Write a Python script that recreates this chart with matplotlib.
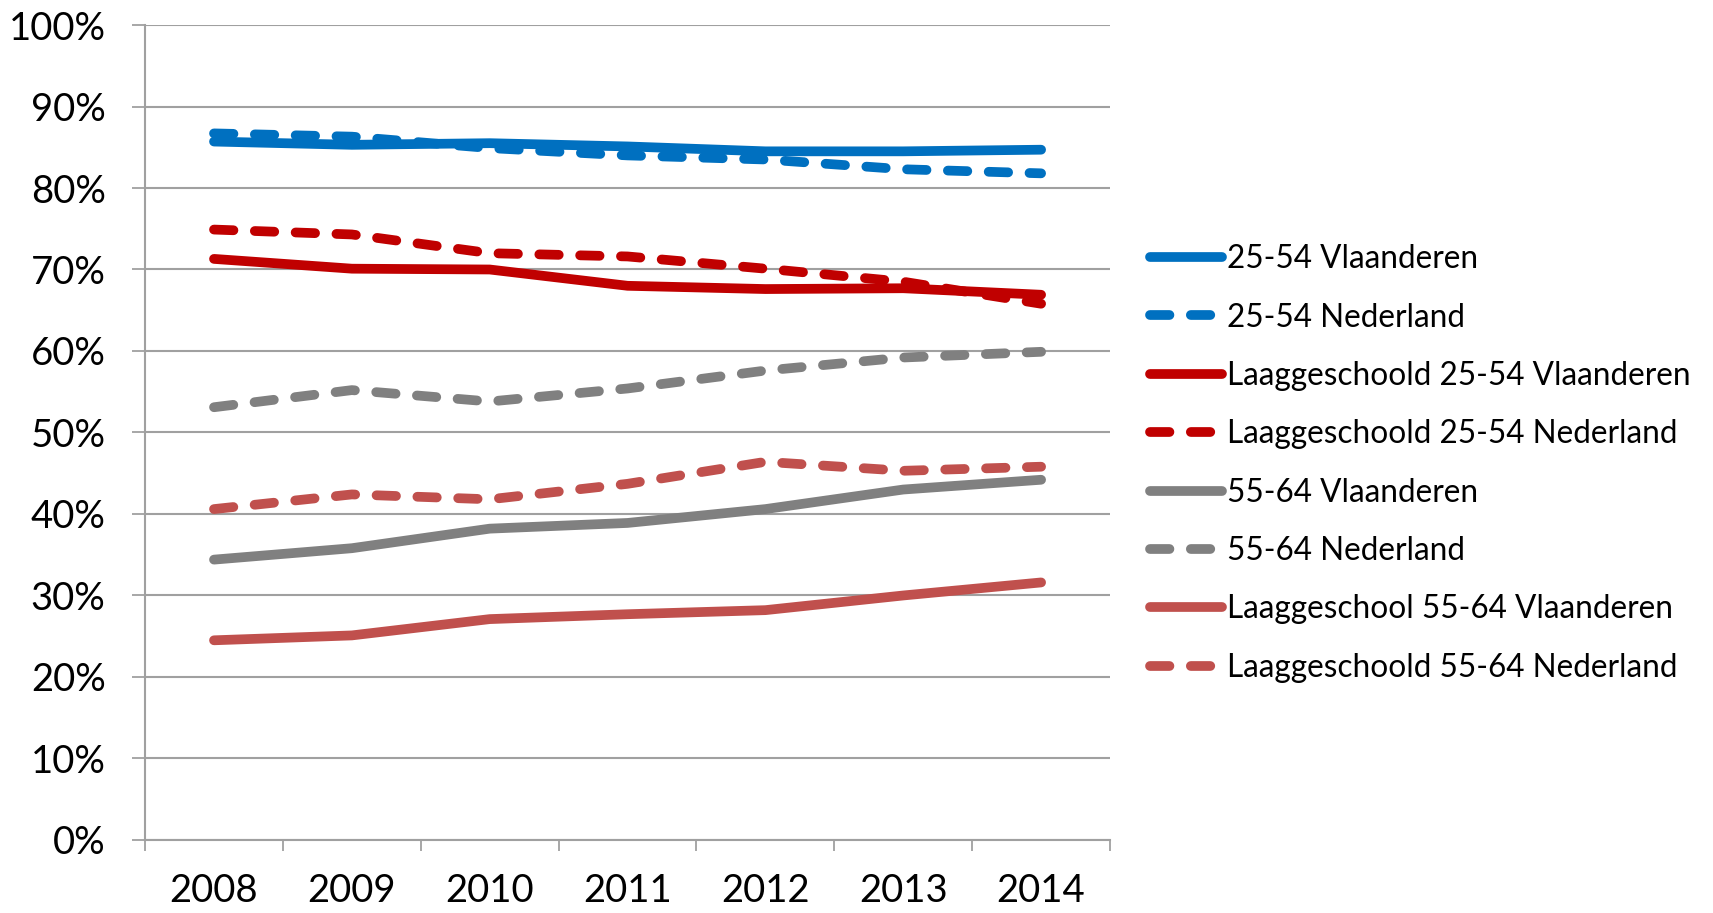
import matplotlib
matplotlib.use("Agg")
import matplotlib.pyplot as plt
from matplotlib.ticker import FixedLocator, NullFormatter

years = ["2008", "2009", "2010", "2011", "2012", "2013", "2014"]

v2554_vl = [85.7, 85.3, 85.5, 85.1, 84.5, 84.5, 84.7]
v2554_nl = [86.7, 86.3, 84.9, 84.0, 83.5, 82.3, 81.8]
laag2554_vl = [71.3, 70.1, 70.0, 68.0, 67.6, 67.7, 66.9]
laag2554_nl = [74.9, 74.3, 72.0, 71.6, 70.1, 68.5, 65.8]
v5564_vl = [34.4, 35.8, 38.2, 38.9, 40.6, 43.0, 44.2]
v5564_nl = [53.1, 55.2, 53.8, 55.4, 57.6, 59.2, 59.9]
laag5564_vl = [24.5, 25.1, 27.1, 27.7, 28.2, 30.0, 31.6]
laag5564_nl = [40.6, 42.4, 41.8, 43.7, 46.4, 45.3, 45.8]

series = [
    ("25-54 Vlaanderen", v2554_vl, "#0070C0", False),
    ("25-54 Nederland", v2554_nl, "#0070C0", True),
    ("Laaggeschoold 25-54 Vlaanderen", laag2554_vl, "#C00000", False),
    ("Laaggeschoold 25-54 Nederland", laag2554_nl, "#C00000", True),
    ("55-64 Vlaanderen", v5564_vl, "#808080", False),
    ("55-64 Nederland", v5564_nl, "#808080", True),
    ("Laaggeschool 55-64 Vlaanderen", laag5564_vl, "#C0504D", False),
    ("Laaggeschoold 55-64 Nederland", laag5564_nl, "#C0504D", True),
]

fig = plt.figure(figsize=(17.13, 9.13), dpi=100)
ax = fig.add_axes([0.0847, 0.080, 0.5633, 0.8926])

x = list(range(len(years)))
lw = 7.0
for name, vals, col, dashed in series:
    if dashed:
        ax.plot(x, vals, color=col, lw=lw, label=name, dashes=(2.0, 2.2),
                dash_capstyle="round", solid_capstyle="round", solid_joinstyle="round")
    else:
        ax.plot(x, vals, color=col, lw=lw, label=name,
                solid_capstyle="round", solid_joinstyle="round")

ax.set_xlim(-0.5, len(years) - 0.5)
ax.set_ylim(0, 100)
ax.set_yticks(range(0, 101, 10))
ax.set_yticklabels([f"{v}%" for v in range(0, 101, 10)], fontsize=27.5, family="Lato")
ax.yaxis.grid(True, color="#A0A0A0", lw=1.5)
ax.set_axisbelow(True)

ax.xaxis.set_major_locator(FixedLocator([i - 0.5 for i in range(len(years) + 1)]))
ax.xaxis.set_major_formatter(NullFormatter())
ax.xaxis.set_minor_locator(FixedLocator(x))
ax.set_xticklabels(years, minor=True, fontsize=27.5, family="Lato")
ax.tick_params(axis="x", which="major", length=8, width=1.3, color="#A0A0A0", direction="out")
ax.tick_params(axis="x", which="minor", length=0, pad=24)
ax.tick_params(axis="y", length=9.5, width=1.3, color="#A0A0A0", pad=19)

for s in ["top", "right"]:
    ax.spines[s].set_visible(False)
for s in ["left", "bottom"]:
    ax.spines[s].set_color("#A0A0A0")
    ax.spines[s].set_linewidth(1.5)

leg = ax.legend(loc="center left", bbox_to_anchor=(1.041, 0.462), frameon=False,
                prop={"family": "Lato", "size": 22.7}, handlelength=2.3,
                handletextpad=0.17, labelspacing=0.90, borderpad=0, borderaxespad=0)

fig.savefig("out.png", dpi=100)
